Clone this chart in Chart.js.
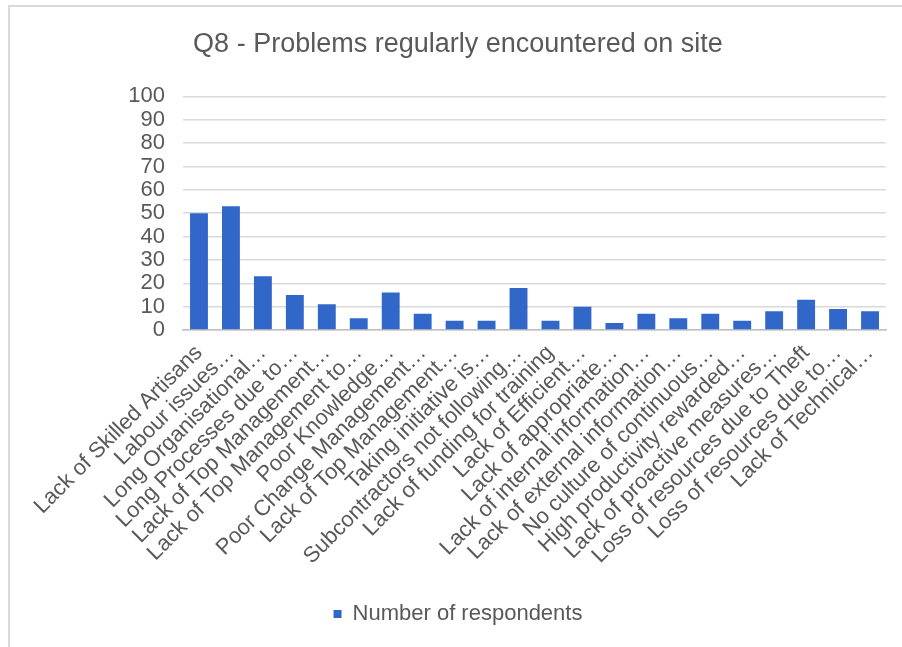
<!DOCTYPE html>
<html>
<head>
<meta charset="utf-8">
<script src="https://cdn.jsdelivr.net/npm/chart.js@4.4.1/dist/chart.umd.min.js"></script>
<style>
  body { margin: 0; background: #fff; }
  #wrap { position: relative; width: 902px; height: 647px; overflow: hidden; }
  #frame {
    position: absolute; left: 8px; top: 5px; width: 920px; height: 660px;
    border-left: 2px solid #d9d9d9; border-top: 2px solid #d9d9d9;
  }
  #chart { position: absolute; left: 0; top: 0; }
</style>
</head>
<body>
<div id="wrap">
  <div id="frame"></div>
  <canvas id="chart" width="902" height="647"></canvas>
</div>
<script>
const problems = [
  'Lack of Skilled Artisans',
  'Labour issues…',
  'Long Organisational…',
  'Long Processes due to…',
  'Lack of Top Management…',
  'Lack of Top Management to…',
  'Poor Knowledge…',
  'Poor Change Management…',
  'Lack of Top Management…',
  'Taking initiative is…',
  'Subcontractors not following…',
  'Lack of funding for training',
  'Lack of Efficient…',
  'Lack of appropriate…',
  'Lack of internal information…',
  'Lack of external information…',
  'No culture of continuous…',
  'High productivity rewarded…',
  'Lack of proactive measures…',
  'Loss of resources due to Theft',
  'Loss of resources due to…',
  'Lack of Technical…'
];
const respondents = [50, 53, 23, 15, 11, 5, 16, 7, 4, 4, 18, 4, 10, 3, 7, 5, 7, 4, 8, 13, 9, 8];
const yTicks = [0, 10, 20, 30, 40, 50, 60, 70, 80, 90, 100];

const grey = '#595959';
const sans = "'Liberation Sans', Arial, sans-serif";

const ctx = document.getElementById('chart').getContext('2d');
const chart = new Chart(ctx, {
  type: 'bar',
  data: {
    labels: problems,
    datasets: [{
      label: 'Number of respondents',
      data: respondents,
      backgroundColor: '#3167c9',
      barPercentage: 0.56,
      categoryPercentage: 1
    }]
  },
  options: {
    responsive: false,
    animation: false,
    // left padding nudges title and legend right; y axis width makes up the rest
    layout: { padding: { left: 30, right: 16, bottom: 12 } },
    plugins: {
      title: {
        display: true,
        text: 'Q8 - Problems regularly encountered on site',
        color: grey,
        font: { family: sans, size: 27, weight: 'normal' },
        padding: { top: 28, bottom: 36 }
      },
      legend: {
        position: 'bottom',
        labels: {
          color: grey,
          font: { family: sans, size: 22 },
          boxWidth: 8,
          boxHeight: 8,
          padding: 10
        }
      },
      tooltip: { enabled: false }
    },
    scales: {
      x: {
        grid: { display: false },
        border: { color: '#bfbfbf', width: 1.5 },
        ticks: {
          color: grey,
          font: { family: sans, size: 22 },
          minRotation: 45,
          maxRotation: 45,
          autoSkip: false,
          padding: 2
        },
        afterFit: function (scale) { scale.height = 263; }
      },
      y: {
        min: 0,
        max: 100,
        afterBuildTicks: function (scale) {
          scale.ticks = yTicks.map(v => ({ value: v }));
        },
        grid: { color: '#d9d9d9', lineWidth: 1.5, drawTicks: false },
        border: { display: false },
        ticks: {
          color: grey,
          font: { family: sans, size: 22 },
          autoSkip: false,
          padding: 18
        },
        afterFit: function (scale) { scale.width = 153; }
      }
    }
  }
});
</script>
</body>
</html>
